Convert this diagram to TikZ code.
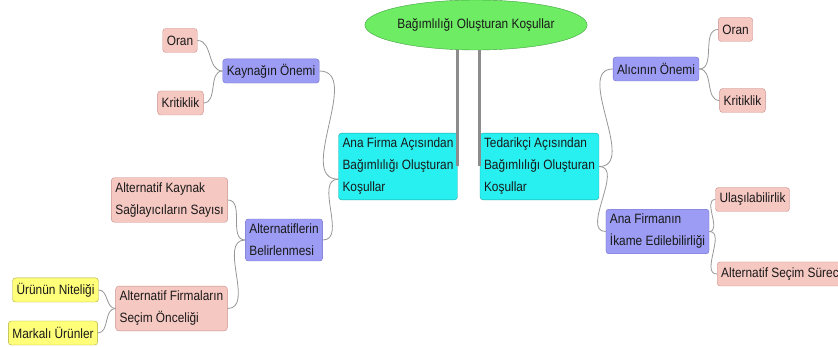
\documentclass[tikz,border=0pt]{standalone}
\usepackage{fontspec}
\setmainfont{Liberation Sans}[FakeStretch=0.88]
\usepackage{tikz}
\usetikzlibrary{shapes.geometric}

\definecolor{rootfill}{RGB}{110,236,100}
\definecolor{rootline}{RGB}{60,160,60}
\definecolor{mainfill}{RGB}{40,240,240}
\definecolor{mainline}{RGB}{30,170,170}
\definecolor{subfill}{RGB}{156,156,244}
\definecolor{subline}{RGB}{110,110,204}
\definecolor{leaffill}{RGB}{246,200,194}
\definecolor{leafline}{RGB}{200,144,138}
\definecolor{yelfill}{RGB}{255,255,122}
\definecolor{yelline}{RGB}{170,170,48}
\definecolor{linkgray}{RGB}{150,150,150}
\definecolor{trunkgray}{RGB}{140,140,140}

\begin{document}
\begin{tikzpicture}[x=1pt,
            y=-1pt,
            font=\fontsize{13.5pt}{22pt}\selectfont,
            every node/.style={text=black!90},
            box/.style={draw,rounded corners=3pt,align=left,inner xsep=4pt,inner ysep=5pt,minimum height=24pt},
            root/.style={ellipse,draw=rootline,fill=rootfill,minimum width=178pt,minimum height=50pt,inner sep=0pt},
            main/.style={box,draw=mainline,fill=mainfill},
            sub/.style={box,draw=subline,fill=subfill},
            leaf/.style={box,draw=leafline,fill=leaffill},
            yel/.style={box,draw=yelline,fill=yelfill},
            link/.style={draw=linkgray,line width=0.8pt},
            trunk/.style={draw=trunkgray,line width=3.2pt}]

        \useasboundingbox (0,0) rectangle (838,347);

        \node[root] (root)   at (476,25)    {Bağımlılığı Oluşturan Koşullar};
        \node[main] (lmain)  at (398,166.5) {Ana Firma Açısından\\Bağımlılığı Oluşturan\\Koşullar};
        \node[main] (rmain)  at (539.5,166.5) {Tedarikçi Açısından\\Bağımlılığı Oluşturan\\Koşullar};

        % ana firma tarafi
        \node[sub]  (kaynak) at (271,71)    {Kaynağın Önemi};
        \node[leaf] (loran)  at (180,40.5)  {Oran};
        \node[leaf] (lkrit)  at (180.5,103) {Kritiklik};
        \node[sub]  (alt)    at (284,240)   {Alternatiflerin\\Belirlenmesi};
        \node[leaf] (altkay) at (169.5,200) {Alternatif Kaynak\\Sağlayıcıların Sayısı};
        \node[leaf] (altfir) at (171.5,308.5) {Alternatif Firmaların\\Seçim Önceliği};
        \node[yel]  (urun)   at (55.5,290)  {Ürünün Niteliği};
        \node[yel]  (marka)  at (53,333)    {Markalı Ürünler};

        % tedarikci tarafi
        \node[sub]  (alici)  at (656,69)    {Alıcının Önemi};
        \node[leaf] (roran)  at (735.5,29.5) {Oran};
        \node[leaf] (rkrit)  at (742.5,100.5) {Kritiklik};
        \node[sub]  (ikame)  at (657.5,231.5) {Ana Firmanın\\İkame Edilebilirliği};
        \node[leaf] (ulas)   at (752.5,199.5) {Ulaşılabilirlik};
        \node[leaf,anchor=west] (secim) at (717,274) {Alternatif Seçim Süreci};

        \draw[trunk] (root.south -| lmain.east) -- (lmain.east);
        \draw[trunk] (root.south -| rmain.west) -- (rmain.west);

        \path[link] (kaynak) edge [out=0,in=180] (lmain.192)
                    (alt)    edge [out=0,in=180] (lmain.192)
                    (loran)  edge [out=0,in=180] (kaynak)
                    (lkrit)  edge [out=0,in=180] (kaynak)
                    (altkay) edge [out=0,in=180] (alt)
                    (altfir) edge [out=0,in=180] (alt)
                    (urun)   edge [out=0,in=180] (altfir)
                    (marka)  edge [out=0,in=180] (altfir)
                    (rmain)  edge [out=0,in=180] (alici)
                    (rmain)  edge [out=0,in=180] (ikame)
                    (alici)  edge [out=0,in=180] (roran)
                    (alici)  edge [out=0,in=180] (rkrit)
                    (ikame)  edge [out=0,in=180] (ulas)
                    (ikame)  edge [out=0,in=180] (secim);

    \end{tikzpicture}
\end{document}
